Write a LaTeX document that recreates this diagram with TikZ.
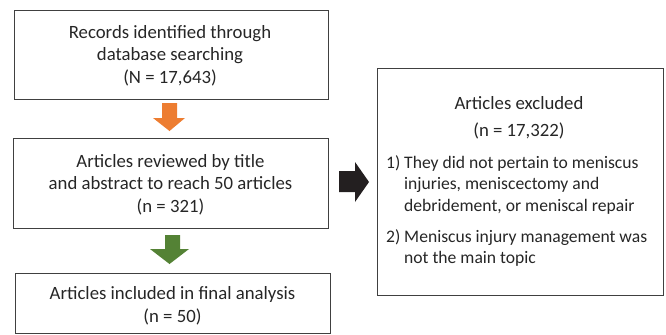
\documentclass[tikz,border=0pt]{standalone}
\usepackage{fontspec}
\setmainfont{Carlito}
\definecolor{boxline}{HTML}{404040}
\definecolor{arrorange}{HTML}{ED7D31}
\definecolor{arrgreen}{HTML}{548235}
\definecolor{arrblack}{HTML}{231F20}
\begin{document}
\begin{tikzpicture}[x=1bp,y=-1bp,
  box/.style={draw=boxline, line width=0.9bp, rectangle, inner sep=0pt},
  ctxt/.style={inner sep=0pt, anchor=base, font=\fontsize{18.75bp}{23bp}\selectfont, text=black!85},
  txt/.style={inner sep=0pt, anchor=base west, font=\fontsize{17.6bp}{21bp}\selectfont, text=black!85}]
\useasboundingbox (0,0) rectangle (666,334);
\node[box, minimum width=314bp, minimum height=89bp] (b1) at (171,54.5) {};
\node[box, minimum width=315bp, minimum height=90bp] (b2) at (170.5,183) {};
\node[box, minimum width=315bp, minimum height=60bp] (b3) at (172.5,303) {};
\node[box, minimum width=286bp, minimum height=227bp] (b4) at (520,181.5) {};
% box 1 text
\node[ctxt] (a1) at (170,38) {Records identified through};
\node[ctxt] (a2) at (170,60.5) {database searching};
\node[ctxt] (a3) at (170,83) {(N = 17,643)};
% box 2 text
\node[ctxt] (c1) at (170.5,167) {Articles reviewed by title};
\node[ctxt] (c2) at (170.5,189.5) {and abstract to reach 50 articles};
\node[ctxt] (c3) at (170.5,212) {(n = 321)};
% box 3 text
\node[ctxt] (d1) at (172.5,299) {Articles included in final analysis};
\node[ctxt] (d2) at (172.5,322) {(n = 50)};
% box 4 text
\node[ctxt] (t1) at (519,109) {Articles excluded};
\node[ctxt] (t2) at (519,136.5) {(n = 17,322)};
\node[txt] (l1) at (386,168) {1)};
\node[txt] (i1a) at (404,168) {They did not pertain to meniscus};
\node[txt] (i1b) at (404,189.5) {injuries, meniscectomy and};
\node[txt] (i1c) at (404,211) {debridement, or meniscal repair};
\node[txt] (l2) at (386,242.5) {2)};
\node[txt] (i2a) at (404,242.5) {Meniscus injury management was};
\node[txt] (i2b) at (404,263.5) {not the main topic};
% block arrows
\fill[arrorange] (162,103) -- (177,103) -- (177,118) -- (185,118) -- (169.5,131) -- (153,118) -- (162,118) -- cycle;
\fill[arrgreen] (165,235) -- (180,235) -- (180,249) -- (189,249) -- (169.5,264) -- (150,249) -- (165,249) -- cycle;
\fill[arrblack] (339,171) -- (355,171) -- (355,162) -- (369,182) -- (355,202) -- (355,192) -- (339,192) -- cycle;
\end{tikzpicture}
\end{document}
